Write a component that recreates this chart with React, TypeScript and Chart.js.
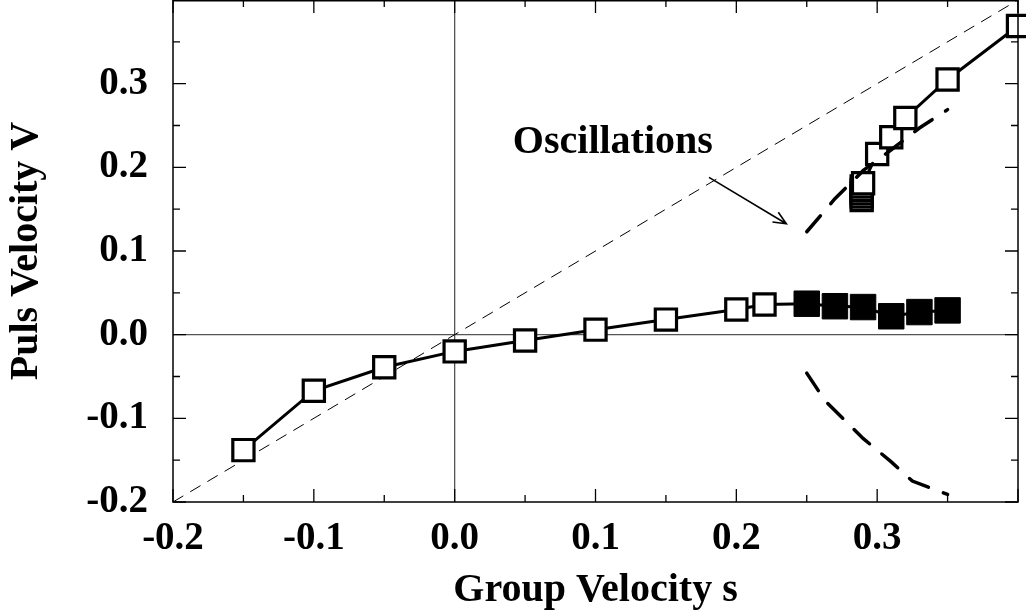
import React, { useEffect, useRef } from 'react';
import { Chart, registerables } from 'chart.js';

Chart.register(...registerables);

// ---- data ----
const xTickLabels = ['-0.2', '-0.1', '0.0', '0.1', '0.2', '0.3'];
const yTickLabels = ['-0.2', '-0.1', '0.0', '0.1', '0.2', '0.3'];

const lowerX = [-0.15, -0.1, -0.05, 0.0, 0.05, 0.1, 0.15, 0.2, 0.22, 0.25, 0.27, 0.29, 0.31, 0.33, 0.35];
const lowerY = [-0.138, -0.067, -0.039, -0.02, -0.007, 0.006, 0.018, 0.03, 0.036, 0.037, 0.034, 0.033, 0.022, 0.027, 0.029];
const lowerFilled = [false, false, false, false, false, false, false, false, false, true, true, true, true, true, true];

const upperX = [0.289, 0.289, 0.289, 0.289, 0.289, 0.29, 0.3, 0.31, 0.32, 0.35, 0.4];
const upperY = [0.161, 0.165, 0.169, 0.173, 0.177, 0.181, 0.216, 0.236, 0.259, 0.305, 0.369];

const oscUpperX = [0.25, 0.27, 0.29, 0.31, 0.33, 0.35];
const oscUpperY = [0.123, 0.1625, 0.196, 0.221, 0.247, 0.269];

const oscLowerX = [0.25, 0.263, 0.29, 0.31, 0.325, 0.35];
const oscLowerY = [-0.046, -0.079, -0.124, -0.152, -0.175, -0.191];

const diagX = [-0.2, 0.4];
const diagY = [-0.2, 0.4];

const annotationText = 'Oscillations';
const annotationAt = { x: 0.0413, y: 0.2174 };
const arrowFrom = { x: 0.1806, y: 0.188 };
const arrowTo = { x: 0.2355, y: 0.1326 };

const FONT = "'Liberation Serif', 'Times New Roman', serif";

const toPts = (xs: number[], ys: number[]) => xs.map((x, i) => ({ x, y: ys[i] }));

const labelFor = (v: number, labels: string[]) => {
  const found = labels.find((l) => Math.abs(parseFloat(l) - v) < 1e-6);
  return found === undefined ? '' : found;
};

const isMajor = (v: number) => Math.abs(v * 10 - Math.round(v * 10)) < 1e-6;

const framePlugin = {
  id: 'frameTicks',
  afterDatasetsDraw(chart: any) {
    const { ctx, chartArea: a, scales } = chart;
    const xs = scales.x;
    const ys = scales.y;
    ctx.save();
    ctx.strokeStyle = '#000';
    ctx.lineWidth = 1.5;
    ctx.strokeRect(a.left, a.top + 0.75, a.right - a.left, a.bottom - a.top - 0.75);
    ctx.lineWidth = 1.3;
    ctx.beginPath();
    xs.ticks.forEach((t: any) => {
      const p = xs.getPixelForValue(t.value);
      const len = isMajor(t.value) ? 13 : 7;
      ctx.moveTo(p, a.bottom);
      ctx.lineTo(p, a.bottom - len);
      ctx.moveTo(p, a.top);
      ctx.lineTo(p, a.top + len);
    });
    ys.ticks.forEach((t: any) => {
      const p = ys.getPixelForValue(t.value);
      const len = isMajor(t.value) ? 13 : 7;
      ctx.moveTo(a.left, p);
      ctx.lineTo(a.left + len, p);
      ctx.moveTo(a.right, p);
      ctx.lineTo(a.right - len, p);
    });
    ctx.stroke();

    // arrow
    const x0 = xs.getPixelForValue(arrowFrom.x);
    const y0 = ys.getPixelForValue(arrowFrom.y);
    const x1 = xs.getPixelForValue(arrowTo.x);
    const y1 = ys.getPixelForValue(arrowTo.y);
    const ang = Math.atan2(y1 - y0, x1 - x0);
    const head = 14;
    const spread = 0.42;
    ctx.lineWidth = 1.6;
    ctx.beginPath();
    ctx.moveTo(x0, y0);
    ctx.lineTo(x1, y1);
    ctx.moveTo(x1 - head * Math.cos(ang - spread), y1 - head * Math.sin(ang - spread));
    ctx.lineTo(x1, y1);
    ctx.lineTo(x1 - head * Math.cos(ang + spread), y1 - head * Math.sin(ang + spread));
    ctx.stroke();

    // text
    ctx.fillStyle = '#000';
    ctx.font = `bold 40px ${FONT}`;
    ctx.textAlign = 'left';
    ctx.textBaseline = 'alphabetic';
    ctx.fillText(annotationText, xs.getPixelForValue(annotationAt.x), ys.getPixelForValue(annotationAt.y));
    ctx.restore();
  },
};

export default function App() {
  const ref = useRef<HTMLCanvasElement | null>(null);

  useEffect(() => {
    if (!ref.current) return;
    const zeroColor = (ctx: any) =>
      ctx.tick && Math.abs(ctx.tick.value) < 1e-9 ? '#555' : 'rgba(0,0,0,0)';

    const chart = new Chart(ref.current, {
      type: 'line',
      data: {
        datasets: [
          {
            label: 'osc upper',
            data: toPts(oscUpperX, oscUpperY),
            borderColor: '#000',
            borderWidth: 3.5,
            borderDash: [21, 16],
            borderCapStyle: 'round',
            pointRadius: 0,
            fill: false,
            tension: 0,
            clip: false,
            order: 0,
          },
          {
            label: 'osc lower',
            data: toPts(oscLowerX, oscLowerY),
            borderColor: '#000',
            borderWidth: 3.5,
            borderDash: [21, 16],
            borderCapStyle: 'round',
            pointRadius: 0,
            fill: false,
            tension: 0,
            clip: false,
            order: 0,
          },
          {
            label: 'lower branch',
            data: toPts(lowerX, lowerY),
            borderColor: '#000',
            borderWidth: 3,
            pointStyle: 'rect',
            pointRadius: lowerFilled.map((f) => (f ? 18 : 15)),
            pointBorderWidth: lowerFilled.map((f) => (f ? 1 : 3.2)),
            pointBackgroundColor: lowerFilled.map((f) => (f ? '#000' : '#fff')),
            pointBorderColor: '#000',
            fill: false,
            tension: 0,
            clip: false,
            order: 1,
          },
          {
            label: 'upper branch',
            data: toPts(upperX, upperY),
            borderColor: '#000',
            borderWidth: 3,
            pointStyle: 'rect',
            pointRadius: 15,
            pointBorderWidth: 3.2,
            pointBackgroundColor: '#fff',
            pointBorderColor: '#000',
            fill: false,
            tension: 0,
            clip: false,
            order: 1,
          },
          {
            label: 'V = s',
            data: toPts(diagX, diagY),
            borderColor: '#000',
            borderWidth: 1,
            borderDash: [12, 8],
            pointRadius: 0,
            fill: false,
            tension: 0,
            order: 2,
          },
        ],
      },
      options: {
        responsive: false,
        animation: false,
        layout: { autoPadding: false, padding: { left: 0, right: 8, top: 0, bottom: 0 } },
        plugins: { legend: { display: false }, tooltip: { enabled: false } },
        scales: {
          x: {
            type: 'linear',
            position: 'bottom',
            min: -0.2,
            max: 0.4,
            afterFit: (s: any) => {
              s.height = 113;
              s.paddingLeft = 0;
              s.paddingRight = 0;
            },
            grid: { drawTicks: false, color: zeroColor, lineWidth: 1.3 },
            border: { display: false },
            ticks: {
              stepSize: 0.05,
              autoSkip: false,
              maxRotation: 0,
              padding: 14,
              color: '#000',
              font: { family: FONT, size: 39, weight: 'bold' },
              callback: (v: any) => labelFor(Number(v), xTickLabels),
            },
            title: {
              display: true,
              text: 'Group Velocity s',
              color: '#000',
              font: { family: FONT, size: 40, weight: 'bold' },
              padding: 0,
            },
          },
          y: {
            type: 'linear',
            position: 'left',
            min: -0.2,
            max: 0.4,
            afterFit: (s: any) => {
              s.width = 173;
              s.paddingTop = 0;
              s.paddingBottom = 0;
            },
            grid: { drawTicks: false, color: zeroColor, lineWidth: 1.3 },
            border: { display: false },
            ticks: {
              stepSize: 0.05,
              autoSkip: false,
              padding: 25,
              color: '#000',
              font: { family: FONT, size: 39, weight: 'bold' },
              callback: (v: any) => labelFor(Number(v), yTickLabels),
            },
            title: {
              display: true,
              text: 'Puls Velocity V',
              color: '#000',
              font: { family: FONT, size: 40, weight: 'bold' },
              padding: 3,
            },
          },
        },
      },
      plugins: [framePlugin],
    } as any);

    return () => chart.destroy();
  }, []);

  return (
    <div style={{ position: 'absolute', left: 0, top: 0, width: 1026, height: 615, background: '#fff' }}>
      <canvas ref={ref} width={1026} height={615} style={{ display: 'block' }} />
    </div>
  );
}
